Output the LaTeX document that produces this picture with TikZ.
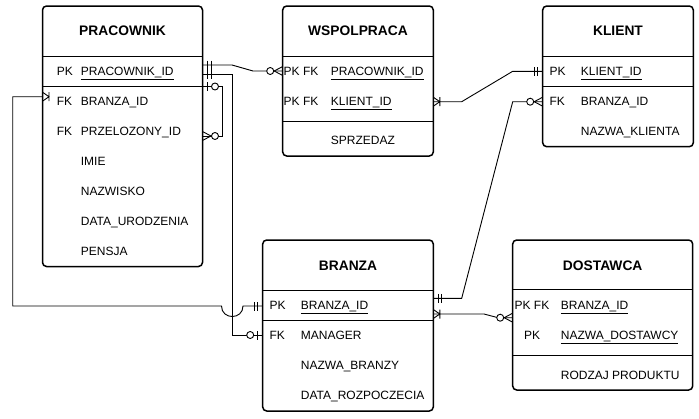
\documentclass[tikz,border=0pt]{standalone}
\usepackage{fontspec}
\setmainfont{Liberation Sans}
\begin{document}
\begin{tikzpicture}[x=1pt,y=-1pt,
  entity/.style={draw=black, line width=1.5pt, rounded corners=4pt, anchor=north west, inner sep=0pt, outer sep=0pt},
  divider/.style={line width=1pt},
  ttl/.style={font=\fontsize{13.8}{16}\selectfont\bfseries, inner sep=0pt},
  fld/.style={font=\fontsize{12}{14}\selectfont, anchor=west, inner sep=0pt, text height=8.6pt, text depth=0pt},
  keyc/.style={font=\fontsize{12}{14}\selectfont, anchor=center, inner sep=0pt, text height=8.6pt, text depth=0pt},
  conn/.style={line width=0.9pt, black},
  mandone/.pic={\draw[conn] (5,-4.5)--(5,4.5) (8.5,-4.5)--(8.5,4.5);},
  zeroone/.pic={\draw[conn] (5,-4.5)--(5,4.5); \draw[conn,fill=white] (12.5,0) circle[radius=3.5pt];},
  zeromany/.pic={\draw[conn] (0,-4.5)--(8.5,0)--(0,4.5); \draw[conn,fill=white] (12.5,0) circle[radius=3.5pt];},
  onemany/.pic={\draw[conn] (0,-4.5)--(6.5,0)--(0,4.5) (6.5,-4.5)--(6.5,4.5);},
]
\useasboundingbox (0,0) rectangle (699,418);

% ---------- entities ----------
\node[entity, minimum width=160pt, minimum height=260.5pt] (prac) at (42.5,6) {};
\node[entity, minimum width=150.6pt, minimum height=150pt] (wsp) at (282.7,6) {};
\node[entity, minimum width=150.6pt, minimum height=140.7pt] (kli) at (542.7,6) {};
\node[entity, minimum width=170.6pt, minimum height=171pt] (bra) at (262.7,240) {};
\node[entity, minimum width=180pt, minimum height=150pt] (dos) at (512.7,240) {};

% dividers
\draw[divider] (prac.west |- 0,56) -- (prac.east |- 0,56);
\draw[divider] (prac.west |- 0,86.5) -- (prac.east |- 0,86.5);
\draw[divider] (wsp.west |- 0,56.5) -- (wsp.east |- 0,56.5);
\draw[divider] (wsp.west |- 0,121.3) -- (wsp.east |- 0,121.3);
\draw[divider] (kli.west |- 0,56.5) -- (kli.east |- 0,56.5);
\draw[divider] (kli.west |- 0,86.5) -- (kli.east |- 0,86.5);
\draw[divider] (bra.west |- 0,290) -- (bra.east |- 0,290);
\draw[divider] (bra.west |- 0,320) -- (bra.east |- 0,320);
\draw[divider] (dos.west |- 0,289.5) -- (dos.east |- 0,289.5);
\draw[divider] (dos.west |- 0,355) -- (dos.east |- 0,355);

% titles
\node[ttl] (prac-t) at (122.5,31) {PRACOWNIK};
\node[ttl] (wsp-t) at (358,31) {WSPOLPRACA};
\node[ttl] (kli-t) at (618,31) {KLIENT};
\node[ttl] (bra-t) at (348,265.5) {BRANZA};
\node[ttl] (dos-t) at (602.7,265.5) {DOSTAWCA};

% PRACOWNIK rows
\node[fld] (prac-k1) at (56.7,71) {PK};
\node[fld] (prac-f1) at (80.7,71) {\underline{PRACOWNIK\_ID}};
\node[fld] (prac-k2) at (56.7,101) {FK};
\node[fld] (prac-f2) at (80.7,101) {BRANZA\_ID};
\node[fld] (prac-k3) at (56.7,131) {FK};
\node[fld] (prac-f3) at (80.7,131) {PRZELOZONY\_ID};
\node[fld] (prac-f4) at (80.7,161) {IMIE};
\node[fld] (prac-f5) at (80.7,191) {NAZWISKO};
\node[fld] (prac-f6) at (80.7,221) {DATA\_URODZENIA};
\node[fld] (prac-f7) at (80.7,251) {PENSJA};

% WSPOLPRACA rows
\node[fld] (wsp-k1) at (283.5,71) {PK FK};
\node[fld] (wsp-f1) at (330.7,71) {\underline{PRACOWNIK\_ID}};
\node[fld] (wsp-k2) at (283.5,101) {PK FK};
\node[fld] (wsp-f2) at (330.7,101) {\underline{KLIENT\_ID}};
\node[fld] (wsp-f3) at (330.7,140) {SPRZEDAZ};

% KLIENT rows
\node[fld] (kli-k1) at (549.3,71) {PK};
\node[fld] (kli-f1) at (580.7,71) {\underline{KLIENT\_ID}};
\node[fld] (kli-k2) at (549.3,101) {FK};
\node[fld] (kli-f2) at (580.7,101) {BRANZA\_ID};
\node[fld] (kli-f3) at (580.7,131) {NAZWA\_KLIENTA};

% BRANZA rows
\node[fld] (bra-k1) at (269.3,305) {PK};
\node[fld] (bra-f1) at (300.7,305) {\underline{BRANZA\_ID}};
\node[fld] (bra-k2) at (269.3,335) {FK};
\node[fld] (bra-f2) at (300.7,335) {MANAGER};
\node[fld] (bra-f3) at (300.7,365) {NAZWA\_BRANZY};
\node[fld] (bra-f4) at (300.7,395) {DATA\_ROZPOCZECIA};

% DOSTAWCA rows
\node[keyc] (dos-k1) at (532,305) {PK FK};
\node[fld] (dos-f1) at (560.7,305) {\underline{BRANZA\_ID}};
\node[keyc] (dos-k2) at (532,335) {PK};
\node[fld] (dos-f2) at (560.7,335) {\underline{NAZWA\_DOSTAWCY}};
\node[fld] (dos-f3) at (560.7,375) {RODZAJ PRODUKTU};

% ---------- connectors ----------
% PRACOWNIK -- WSPOLPRACA
\draw[conn] (prac.east |- 0,65) -- (232,65) -- (253,71) -- (wsp.west |- 0,71);
\pic at (prac.east |- 0,65) {mandone};
\pic[rotate=180] at (wsp.west |- 0,71) {zeromany};

% PRACOWNIK -- BRANZA.MANAGER
\draw[conn] (prac.east |- 0,74.3) -- (232.3,74.3) -- (232.3,335) -- (bra.west |- 0,335);
\pic at (prac.east |- 0,74.3) {mandone};
\pic[rotate=180] at (bra.west |- 0,335) {zeroone};

% self relation PRZELOZONY
\draw[conn] (prac.east |- 0,86.5) -- (222,86.5) -- (222,136) -- (prac.east |- 0,136);
\pic at (prac.east |- 0,86.5) {zeroone};
\pic at (prac.east |- 0,136) {zeromany};

% BRANZA -- PRACOWNIK.BRANZA_ID
\coordinate (hopR) at (243,306);
\coordinate (hopL) at (221.5,306);
\draw[conn] (bra.west |- 0,306) -- (hopR) .. controls (243,320) and (221.5,320) .. (hopL)
  -- (12.7,306) -- (12.7,96.7) -- (prac.west |- 0,96.7);
\pic[rotate=180] at (bra.west |- 0,306) {mandone};
\pic at (prac.west |- 0,96.7) {onemany};

% KLIENT -- WSPOLPRACA
\draw[conn] (kli.west |- 0,71.3) -- (512.7,71.3) -- (461.7,101.7) -- (wsp.east |- 0,101.7);
\pic[rotate=180] at (kli.west |- 0,71.3) {mandone};
\pic at (wsp.east |- 0,101.7) {onemany};

% KLIENT.BRANZA_ID -- BRANZA
\draw[conn] (kli.west |- 0,101.7) -- (512.7,101.7) -- (461.7,298.3) -- (bra.east |- 0,298.3);
\pic[rotate=180] at (kli.west |- 0,101.7) {zeromany};
\pic at (bra.east |- 0,298.3) {mandone};

% BRANZA -- DOSTAWCA
\draw[conn] (bra.east |- 0,314) -- (484,314) -- (498,317.7) -- (dos.west |- 0,317.7);
\pic at (bra.east |- 0,314) {onemany};
\pic[rotate=180] at (dos.west |- 0,317.7) {zeromany};

\end{tikzpicture}
\end{document}
